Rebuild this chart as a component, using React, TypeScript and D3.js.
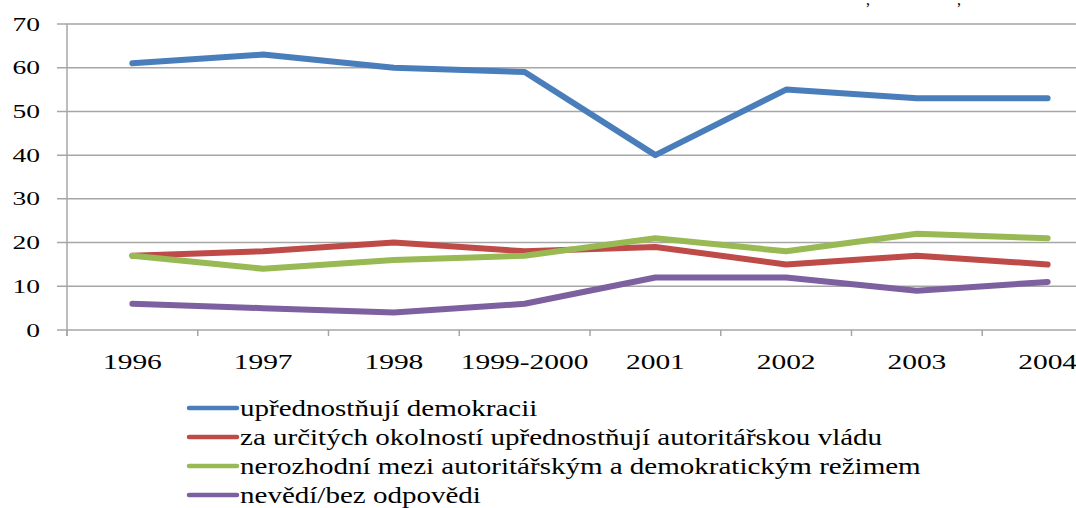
import React from 'react';
import { scaleBand, scaleLinear, line } from 'd3';

const categories = ['1996', '1997', '1998', '1999-2000', '2001', '2002', '2003', '2004'];
const demokracie = [61, 63, 60, 59, 40, 55, 53, 53];
const autoritarska = [17, 18, 20, 18, 19, 15, 17, 15];
const nerozhodni = [17, 14, 16, 17, 21, 18, 22, 21];
const nevedi = [6, 5, 4, 6, 12, 12, 9, 11];
const yTicks = [0, 10, 20, 30, 40, 50, 60, 70];

const series = [
  { name: 'upřednostňují demokracii', values: demokracie, color: '#4A7EBB' },
  { name: 'za určitých okolností upřednostňují autoritářskou vládu', values: autoritarska, color: '#BE4B48' },
  { name: 'nerozhodní mezi autoritářským a demokratickým režimem', values: nerozhodni, color: '#98B954' },
  { name: 'nevědí/bez odpovědi', values: nevedi, color: '#7D60A0' },
];

const W = 1076;
const H = 508;
const FONT = 'Liberation Serif';

export default function App() {
  const x = scaleBand().domain(categories).range([67, 67 + 8 * 130.75]);
  const y = scaleLinear().domain([0, 70]).range([330, 24]);
  const cx = (c) => x(c) + x.bandwidth() / 2;

  const path = line()
    .x((d, i) => cx(categories[i]))
    .y((d) => y(d));

  const bounds = categories.map((c) => x(c)).concat([x(categories[categories.length - 1]) + x.bandwidth()]);

  return (
    <svg width={W} height={H} style={{ position: 'fixed', left: 0, top: 0, background: '#fff' }}>
      <rect width={W} height={H} fill="#fff" />
      {/* title fragments at the top edge (title itself is cut off) */}
      <text x={866} y={5} fontFamily={FONT} fontSize={16} fill="#000">,</text>
      <text x={957} y={5} fontFamily={FONT} fontSize={16} fill="#000">,</text>

      {/* gridlines */}
      {yTicks.map((t) => (
        <line key={t} x1={57} x2={W} y1={y(t)} y2={y(t)} stroke="#a6a6a6" strokeWidth={1.5} />
      ))}
      <line x1={67} x2={67} y1={y(70)} y2={336} stroke="#a6a6a6" strokeWidth={1.5} />
      {bounds.map((b, i) => (
        <line key={i} x1={b} x2={b} y1={330} y2={336} stroke="#a6a6a6" strokeWidth={1.5} />
      ))}

      {/* y labels */}
      {yTicks.map((t) => (
        <g key={t} transform={`translate(40,${y(t) + 6.5}) scale(1.45,1)`}>
          <text textAnchor="end" fontFamily={FONT} fontSize={19} fill="#000">{t}</text>
        </g>
      ))}

      {/* x labels */}
      {categories.map((c) => (
        <g key={c} transform={`translate(${cx(c)},369) scale(1.34,1)`}>
          <text textAnchor="middle" fontFamily={FONT} fontSize={22} fill="#000">{c}</text>
        </g>
      ))}

      {/* lines */}
      {series.map((s) => (
        <path key={s.name} d={path(s.values)} fill="none" stroke={s.color} strokeWidth={6} strokeLinejoin="round" strokeLinecap="round" />
      ))}

      {/* legend */}
      {series.map((s, i) => {
        const ly = 408 + i * 29;
        return (
          <g key={s.name}>
            <line x1={189} x2={237} y1={ly} y2={ly} stroke={s.color} strokeWidth={4.5} strokeLinecap="round" />
            <g transform={`translate(240,${ly + 7.5}) scale(1.29,1)`}>
              <text fontFamily={FONT} fontSize={22.5} fill="#000">{s.name}</text>
            </g>
          </g>
        );
      })}
    </svg>
  );
}
